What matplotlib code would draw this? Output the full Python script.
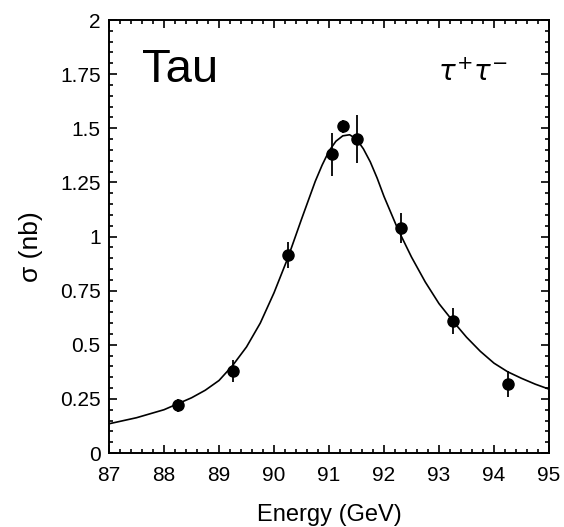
import numpy as np
import matplotlib.pyplot as plt
from matplotlib.ticker import MultipleLocator

energy = [88.25, 89.25, 90.25, 91.05, 91.25, 91.5, 92.3, 93.25, 94.25]
sigma = [0.22, 0.38, 0.915, 1.38, 1.51, 1.45, 1.04, 0.61, 0.32]
sigma_err = [0.03, 0.05, 0.06, 0.10, 0.03, 0.11, 0.07, 0.06, 0.06]

# fitted line shape, sampled from the figure
fit_energy = [87.0, 87.5, 88.0, 88.5, 88.75, 89.0, 89.25, 89.5, 89.75, 90.0, 90.25,
              90.5, 90.75, 90.875, 91.0, 91.125, 91.25, 91.375, 91.5, 91.625,
              91.75, 91.875, 92.0, 92.25, 92.5, 92.75,
              93.0, 93.25, 93.5, 93.75, 94.0, 94.25, 94.5, 94.75, 95.0]
fit_sigma = [0.135, 0.163, 0.20, 0.255, 0.29, 0.335, 0.405, 0.49, 0.60, 0.74, 0.90,
             1.08, 1.255, 1.33, 1.395, 1.44, 1.465, 1.47, 1.45, 1.405,
             1.345, 1.27, 1.185, 1.035, 0.905, 0.79,
             0.69, 0.61, 0.535, 0.47, 0.415, 0.375, 0.345, 0.318, 0.295]

plt.rcParams['font.family'] = ['Liberation Sans', 'DejaVu Sans']

fig = plt.figure(figsize=(5.64, 5.27), dpi=100)
ax = fig.add_axes([0.1933, 0.1404, 0.7801, 0.8216])

ax.plot(fit_energy, fit_sigma, color='black', linewidth=1.2, zorder=2)
ax.errorbar(energy, sigma, yerr=sigma_err, fmt='o', color='black',
            markersize=8, elinewidth=1.3, capsize=0, zorder=3)

ax.set_xlim(87, 95)
ax.set_ylim(0, 2)
ax.xaxis.set_major_locator(MultipleLocator(1))
ax.xaxis.set_minor_locator(MultipleLocator(0.2))
ax.yaxis.set_major_locator(MultipleLocator(0.25))
ax.yaxis.set_minor_locator(MultipleLocator(0.05))
ax.yaxis.set_major_formatter(plt.FuncFormatter(lambda v, p: f"{v:g}"))

ax.tick_params(which='both', direction='in', top=True, right=True,
               labelsize=15, width=1.2)
ax.tick_params(which='major', length=6, pad=6)
ax.tick_params(axis='x', which='major', pad=9)
ax.tick_params(which='minor', length=3)
for s in ax.spines.values():
    s.set_linewidth(1.4)

ax.set_xlabel('Energy (GeV)', fontsize=17, labelpad=14)
ax.set_ylabel('σ (nb)', fontsize=19)
ax.yaxis.set_label_coords(-0.15, 0.476)

ax.text(0.075, 0.935, 'Tau', transform=ax.transAxes, fontsize=34,
        va='top', ha='left')
ax.text(0.827, 0.878, r'$\tau^{+}\tau^{-}$', transform=ax.transAxes,
        fontsize=20, va='center', ha='center')

fig.savefig('out.png', dpi=100)
